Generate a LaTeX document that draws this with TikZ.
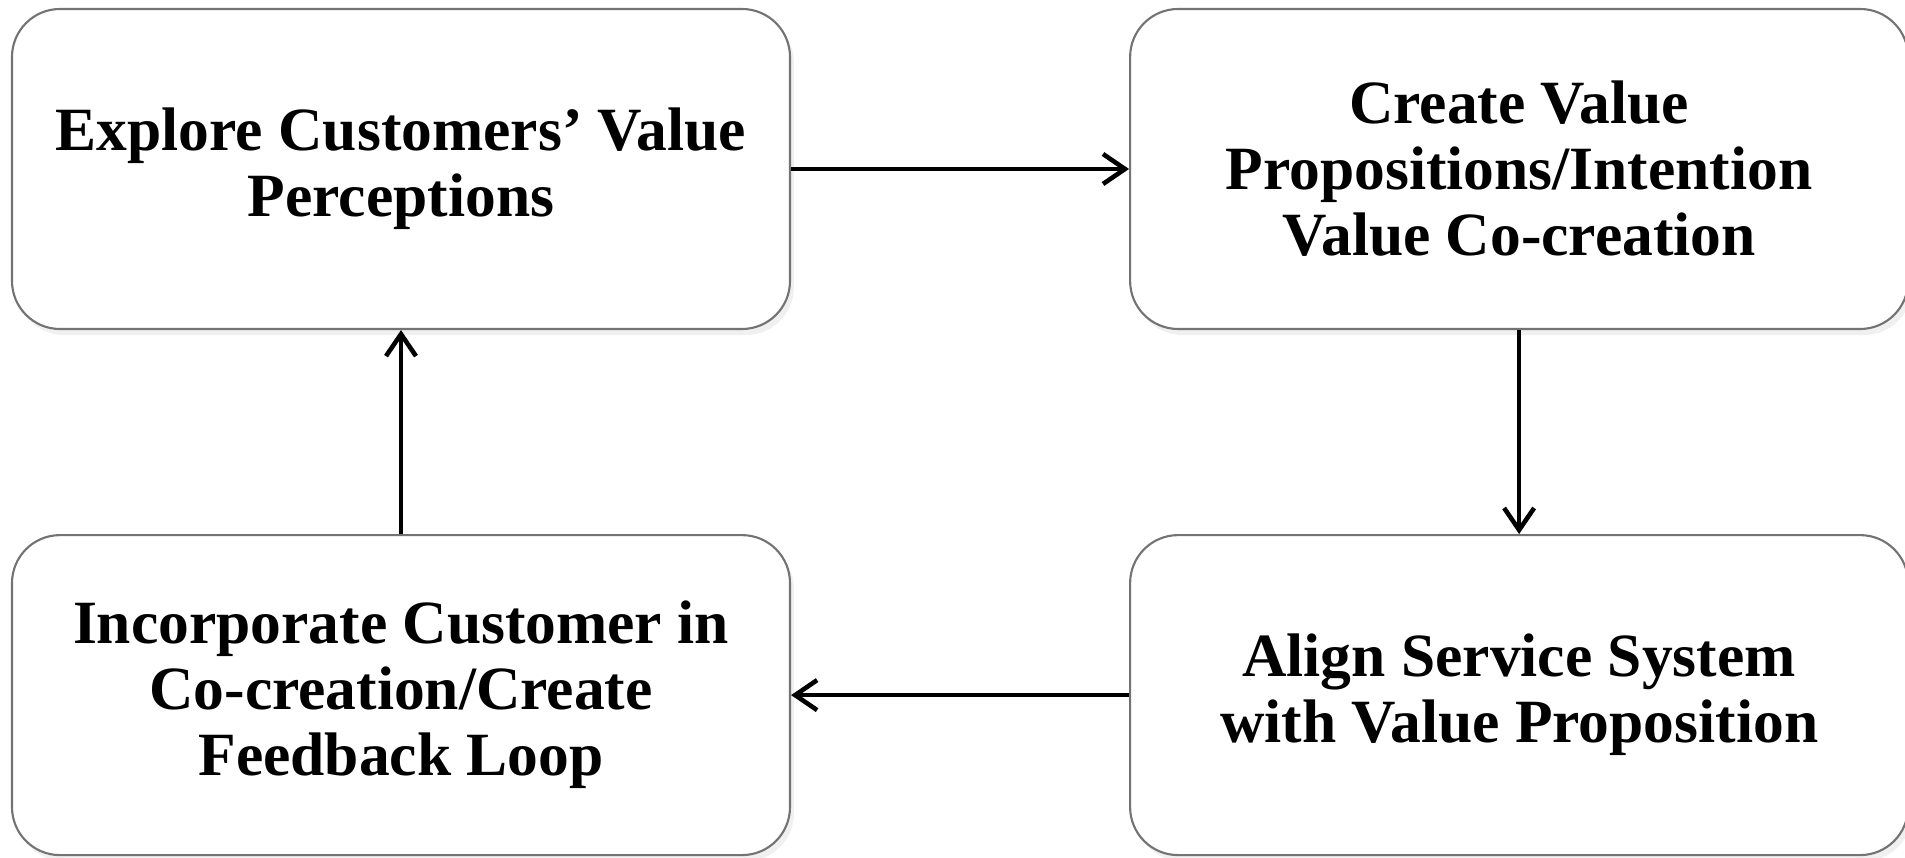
\documentclass[tikz,border=0pt]{standalone}
\usepackage{fontspec}
\setmainfont{Liberation Serif}
\usetikzlibrary{positioning,arrows.meta,shadows}

\begin{document}
\begin{tikzpicture}[
    stagebox/.style={draw=black!55, line width=0.6pt, rounded corners=0.48cm, fill=white,
        minimum width=7.78cm, minimum height=3.2cm, align=center, inner sep=2pt,
        font=\fontsize{17.5}{18.8}\selectfont\bfseries,
        drop shadow={opacity=0.12, shadow xshift=0.4mm, shadow yshift=-0.6mm}},
    flow/.style={-{Straight Barb[length=2.2mm, width=3mm]}, line width=1.3pt}
  ]
    \useasboundingbox (0,0) rectangle (19.05,8.57);
    \node[stagebox] (explore) at (4.01,6.88) {Explore Customers’ Value\\Perceptions};
    \node[stagebox, right=3.38cm of explore] (create) {Create Value\\Propositions/Intention\\Value Co-creation};
    \node[stagebox, below=2.04cm of create] (align) {Align Service System\\with Value Proposition};
    \node[stagebox, below=2.04cm of explore] (incorporate) {Incorporate Customer in\\Co-creation/Create\\Feedback Loop};
    % the loop
    \draw[flow] (explore) -- (create);
    \draw[flow] (create) -- (align);
    \draw[flow] (align) -- (incorporate);
    \draw[flow] (incorporate) -- (explore);
\end{tikzpicture}
\end{document}
